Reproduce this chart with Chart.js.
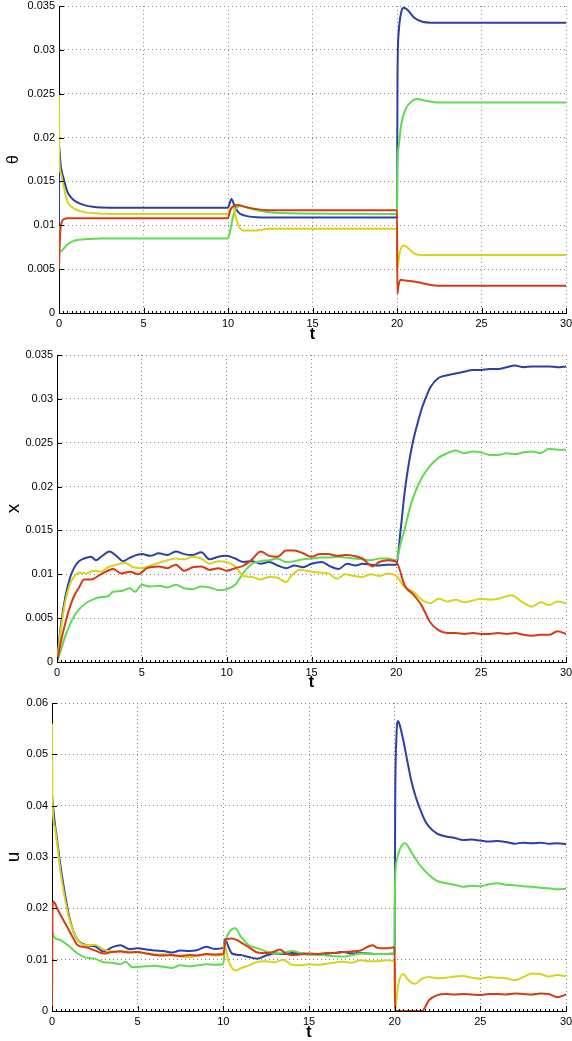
<!DOCTYPE html>
<html>
<head>
<meta charset="utf-8">
<script src="https://cdn.jsdelivr.net/npm/chart.js@4"></script>
<style>
  html, body { margin: 0; padding: 0; background: #fff; }
  #wrap { position: relative; width: 572px; height: 1041px; }
  canvas { position: absolute; left: 0; }
</style>
</head>
<body>
<div id="wrap">
  <canvas id="theta-chart" width="572" height="348" style="top:0"></canvas>
  <canvas id="x-chart" width="572" height="348" style="top:348px"></canvas>
  <canvas id="u-chart" width="572" height="345" style="top:696px"></canvas>
</div>
<script>
// Series colours (same for all three panels)
const BLUE = "#2b3fa8";
const GREEN = "#5fdb50";
const YELLOW = "#d9d31b";
const RED = "#d63b14";

const T_TICKS = [0, 5, 10, 15, 20, 25, 30];

// Panel 1: theta, points are [t, value]
const thetaBlue = [[0,0.0100],[0.01,0.0190],[0.1,0.0168],[0.25,0.0155],[0.5,0.0138],[0.75,0.0131],[1,0.0127],[1.5,0.0123],[2,0.0121],[3,0.0120],[10,0.0120],[10.1,0.0125],[10.2,0.0130],[10.35,0.0124],[10.6,0.0115],[11,0.0111],[12,0.0109],[20,0.0109],[20.03,0.0270],[20.1,0.0320],[20.25,0.0343],[20.4,0.0348],[20.6,0.0346],[21,0.0337],[21.5,0.0332],[22,0.0331],[30,0.0331]];
const thetaGreen = [[0,0.0100],[0.02,0.0072],[0.1,0.0070],[0.3,0.0074],[0.5,0.0078],[0.75,0.0081],[1,0.0083],[1.5,0.0084],[2.5,0.0085],[10,0.0085],[10.1,0.0091],[10.3,0.0110],[10.5,0.0120],[10.8,0.0122],[11.3,0.0119],[12,0.0116],[13,0.0114],[20,0.0113],[20.02,0.0165],[20.1,0.0190],[20.25,0.0215],[20.5,0.0232],[20.9,0.0242],[21.2,0.0244],[21.7,0.0242],[22.5,0.0240],[30,0.0240]];
const thetaYellow = [[0,0.0250],[0.02,0.0175],[0.1,0.0160],[0.25,0.0146],[0.5,0.0127],[0.75,0.0121],[1,0.0118],[1.5,0.0115],[2,0.0114],[3,0.0113],[10,0.0113],[10.15,0.0119],[10.3,0.0122],[10.45,0.0110],[10.7,0.0097],[11,0.0094],[11.5,0.0094],[12.5,0.0096],[20,0.0096],[20.03,0.0052],[20.15,0.0068],[20.4,0.0077],[20.6,0.0075],[21,0.0068],[21.5,0.0066],[22.5,0.0066],[30,0.0066]];
const thetaRed = [[0,0.0050],[0.05,0.0085],[0.15,0.0103],[0.3,0.0107],[0.5,0.0108],[10,0.0108],[10.15,0.0118],[10.35,0.0122],[10.6,0.0123],[11,0.0121],[11.5,0.0119],[12.5,0.0117],[20,0.0117],[20.02,0.0022],[20.08,0.0030],[20.2,0.0038],[20.5,0.0037],[21,0.0036],[21.5,0.0034],[22,0.0032],[23,0.0031],[30,0.0031]];

// Panel 2: x
const xBlue = [[0,0],[0.25,0.0045],[0.5,0.0075],[0.75,0.0095],[1,0.0107],[1.3,0.0115],[1.6,0.0118],[2,0.0120],[2.3,0.0116],[2.6,0.0120],[3.1,0.0126],[3.5,0.0121],[3.9,0.0115],[4.3,0.0119],[5,0.0123],[5.5,0.0121],[6,0.0124],[6.5,0.0122],[7,0.0126],[7.5,0.0123],[8,0.0122],[8.5,0.0125],[9,0.0117],[9.5,0.0120],[10,0.0121],[10.5,0.0118],[11,0.0114],[11.5,0.0115],[12,0.0112],[12.5,0.0114],[13,0.0110],[13.5,0.0107],[14,0.0110],[14.5,0.0108],[15,0.0112],[15.6,0.0114],[16.1,0.0109],[16.6,0.0106],[17.1,0.0112],[17.6,0.0110],[18,0.0112],[18.5,0.0111],[19,0.0110],[19.5,0.0111],[20,0.0111],[20.25,0.0150],[20.5,0.0195],[20.75,0.0228],[21,0.0253],[21.25,0.0272],[21.5,0.0289],[21.75,0.0302],[22,0.0313],[22.5,0.0324],[23,0.0327],[23.5,0.0329],[24,0.0331],[24.5,0.0333],[25,0.0333],[25.5,0.0334],[26,0.0334],[26.5,0.0336],[27,0.0338],[27.5,0.0336],[28,0.0337],[28.5,0.0337],[29,0.0337],[29.5,0.0336],[30,0.0337]];
const xGreen = [[0,0],[0.25,0.0015],[0.5,0.0030],[0.75,0.0042],[1,0.0052],[1.3,0.0060],[1.7,0.0067],[2.2,0.0072],[2.6,0.0074],[3,0.0075],[3.3,0.0080],[3.8,0.0081],[4.3,0.0084],[4.6,0.0080],[5,0.0088],[5.5,0.0086],[6,0.0087],[6.5,0.0085],[7,0.0088],[7.5,0.0084],[8,0.0083],[8.5,0.0086],[9,0.0085],[9.5,0.0082],[10,0.0083],[10.5,0.0088],[11,0.0102],[11.5,0.0112],[12,0.0115],[12.5,0.0116],[13,0.0118],[13.5,0.0114],[14,0.0115],[14.5,0.0117],[15,0.0118],[15.5,0.0119],[16,0.0119],[16.5,0.0120],[17,0.0119],[17.5,0.0118],[18,0.0117],[18.5,0.0116],[19,0.0118],[19.5,0.0118],[20,0.0116],[20.25,0.0135],[20.5,0.0152],[20.75,0.0172],[21,0.0188],[21.5,0.0210],[22,0.0224],[22.5,0.0233],[23,0.0238],[23.5,0.0241],[24,0.0238],[24.5,0.0240],[25,0.0239],[25.5,0.0236],[26,0.0236],[26.5,0.0238],[27,0.0237],[27.5,0.0239],[28,0.0240],[28.5,0.0238],[29,0.0243],[29.5,0.0242],[30,0.0242]];
const xYellow = [[0,0],[0.25,0.0040],[0.5,0.0070],[0.75,0.0088],[1,0.0097],[1.3,0.0102],[1.7,0.0101],[2.2,0.0104],[2.6,0.0103],[3,0.0108],[3.5,0.0111],[4,0.0113],[4.5,0.0108],[5,0.0107],[5.5,0.0110],[6,0.0113],[6.5,0.0116],[7,0.0118],[7.5,0.0117],[8,0.0120],[8.5,0.0118],[9,0.0112],[9.5,0.0115],[10,0.0114],[10.5,0.0109],[11,0.0098],[11.5,0.0097],[12,0.0094],[12.5,0.0097],[13,0.0096],[13.5,0.0091],[13.8,0.0098],[14.3,0.0105],[15,0.0103],[15.5,0.0102],[16,0.0101],[16.5,0.0095],[17,0.0100],[17.5,0.0098],[18,0.0097],[18.5,0.0100],[19,0.0098],[19.5,0.0101],[20,0.0098],[20.5,0.0085],[21,0.0080],[21.5,0.0071],[22,0.0067],[22.5,0.0072],[23,0.0069],[23.5,0.0071],[24,0.0068],[24.5,0.0070],[25,0.0072],[25.5,0.0071],[26,0.0072],[26.8,0.0076],[27.3,0.0070],[28,0.0063],[28.5,0.0068],[29,0.0065],[29.5,0.0069],[30,0.0067]];
const xRed = [[0,0],[0.25,0.0025],[0.5,0.0045],[0.75,0.0062],[1,0.0075],[1.3,0.0085],[1.6,0.0094],[2,0.0094],[2.5,0.0099],[3,0.0104],[3.3,0.0106],[3.8,0.0101],[4.3,0.0103],[4.8,0.0100],[5.3,0.0107],[6,0.0109],[6.5,0.0107],[7,0.0111],[7.5,0.0104],[8,0.0108],[8.5,0.0109],[9,0.0105],[9.5,0.0107],[10,0.0104],[10.5,0.0107],[11,0.0110],[11.5,0.0117],[12,0.0126],[12.5,0.0121],[13,0.0120],[13.5,0.0127],[14,0.0127],[14.5,0.0124],[15,0.0120],[15.5,0.0123],[16,0.0123],[16.5,0.0121],[17,0.0122],[17.5,0.0121],[18,0.0118],[18.6,0.0109],[19,0.0114],[19.5,0.0116],[20,0.0114],[20.5,0.0087],[21,0.0077],[21.5,0.0064],[22,0.0045],[22.5,0.0036],[23,0.0033],[23.5,0.0033],[24,0.0032],[24.5,0.0033],[25,0.0032],[25.5,0.0032],[26,0.0033],[26.5,0.0032],[27,0.0033],[27.5,0.0031],[28,0.0030],[28.5,0.0031],[29,0.0031],[29.5,0.0035],[30,0.0032]];

// Panel 3: u
const uBlue = [[0,0.0420],[0.15,0.0370],[0.3,0.0333],[0.5,0.0281],[0.75,0.0229],[1,0.0184],[1.25,0.0155],[1.5,0.0138],[2,0.0128],[2.5,0.0126],[3,0.0116],[3.5,0.0124],[4,0.0128],[4.5,0.0121],[5,0.0122],[5.5,0.0120],[6,0.0118],[6.5,0.0117],[7,0.0114],[7.5,0.0118],[8,0.0117],[8.5,0.0119],[9,0.0125],[9.5,0.0121],[10,0.0123],[10.1,0.0140],[10.3,0.0125],[10.5,0.0112],[11,0.0109],[11.5,0.0105],[12,0.0102],[12.5,0.0108],[13,0.0112],[13.5,0.0111],[14,0.0113],[15,0.0111],[15.5,0.0110],[16,0.0111],[17,0.0115],[17.5,0.0112],[18,0.0113],[19,0.0111],[20,0.0112],[20.03,0.0400],[20.1,0.0530],[20.2,0.0565],[20.35,0.0550],[20.5,0.0528],[20.75,0.0485],[21,0.0444],[21.25,0.0415],[21.5,0.0392],[21.75,0.0372],[22,0.0359],[22.5,0.0345],[23,0.0340],[23.5,0.0337],[24,0.0333],[24.5,0.0334],[25,0.0332],[25.5,0.0330],[26,0.0331],[26.5,0.0329],[27,0.0326],[27.5,0.0328],[28,0.0327],[28.5,0.0328],[29,0.0326],[29.5,0.0327],[30,0.0325]];
const uGreen = [[0,0.0155],[0.15,0.0143],[0.5,0.0138],[1,0.0126],[1.5,0.0112],[2,0.0104],[2.5,0.0102],[3,0.0095],[3.5,0.0094],[4,0.0091],[4.3,0.0096],[4.7,0.0085],[5,0.0086],[5.5,0.0087],[6,0.0088],[6.5,0.0086],[7,0.0084],[7.5,0.0089],[8,0.0087],[8.5,0.0089],[9,0.0091],[9.5,0.0090],[10,0.0091],[10.1,0.0130],[10.3,0.0151],[10.7,0.0161],[11,0.0146],[11.5,0.0128],[12,0.0122],[12.5,0.0116],[13,0.0112],[13.5,0.0113],[14,0.0117],[14.5,0.0113],[15,0.0109],[15.5,0.0110],[16,0.0108],[17,0.0106],[17.5,0.0109],[18,0.0112],[19,0.0111],[20,0.0112],[20.02,0.0240],[20.1,0.0290],[20.3,0.0315],[20.6,0.0327],[21,0.0308],[21.5,0.0283],[22,0.0265],[22.5,0.0253],[23,0.0249],[23.5,0.0246],[24,0.0242],[24.5,0.0244],[25,0.0243],[25.5,0.0247],[26,0.0249],[26.5,0.0246],[27,0.0245],[27.5,0.0243],[28,0.0242],[28.5,0.0240],[29,0.0239],[29.5,0.0237],[30,0.0238]];
const uYellow = [[0,0.0560],[0.02,0.0420],[0.15,0.0360],[0.3,0.0325],[0.5,0.0270],[0.75,0.0220],[1,0.0180],[1.25,0.0155],[1.5,0.0138],[2,0.0128],[2.5,0.0129],[3,0.0120],[3.5,0.0116],[4,0.0117],[4.5,0.0116],[5,0.0114],[5.5,0.0113],[6,0.0110],[6.5,0.0111],[7,0.0108],[7.5,0.0106],[8,0.0105],[8.5,0.0108],[9,0.0110],[9.5,0.0108],[10,0.0110],[10.05,0.0132],[10.3,0.0098],[10.7,0.0079],[11,0.0083],[11.5,0.0089],[12,0.0096],[12.5,0.0097],[13,0.0095],[13.5,0.0100],[14,0.0090],[14.5,0.0089],[15,0.0091],[15.5,0.0090],[16,0.0092],[17,0.0096],[17.5,0.0094],[18,0.0099],[18.5,0.0097],[19,0.0097],[19.5,0.0099],[20,0.0096],[20.02,0],[20.2,0.0050],[20.5,0.0072],[20.8,0.0060],[21.2,0.0053],[21.6,0.0063],[22,0.0066],[22.5,0.0064],[23,0.0065],[23.5,0.0067],[24,0.0068],[24.5,0.0065],[25,0.0063],[25.5,0.0066],[26,0.0065],[26.5,0.0064],[27,0.0060],[27.5,0.0066],[28,0.0073],[28.5,0.0072],[29,0.0067],[29.5,0.0070],[30,0.0068]];
const uRed = [[0,0],[0.03,0.0200],[0.1,0.0213],[0.3,0.0200],[0.5,0.0187],[0.75,0.0172],[1,0.0157],[1.25,0.0141],[1.5,0.0128],[2,0.0124],[2.5,0.0118],[3,0.0112],[3.5,0.0115],[4,0.0116],[4.5,0.0114],[5,0.0115],[5.5,0.0112],[6,0.0109],[6.5,0.0108],[7,0.0109],[7.5,0.0107],[8,0.0109],[8.5,0.0108],[9,0.0111],[9.5,0.0110],[10,0.0111],[10.15,0.0140],[10.5,0.0141],[10.8,0.0138],[11.2,0.0130],[11.5,0.0124],[12,0.0114],[12.5,0.0113],[13,0.0116],[13.3,0.0120],[13.6,0.0113],[14,0.0109],[14.5,0.0110],[15,0.0112],[15.5,0.0111],[16,0.0113],[16.5,0.0113],[17,0.0115],[17.5,0.0116],[18,0.0118],[18.7,0.0128],[19,0.0123],[19.5,0.0122],[20,0.0124],[20.02,0],[21.6,0],[22,0.0021],[22.5,0.0031],[23,0.0033],[23.5,0.0032],[24,0.0033],[24.5,0.0032],[25,0.0031],[25.5,0.0033],[26,0.0033],[26.5,0.0032],[27,0.0034],[27.5,0.0033],[28,0.0032],[28.5,0.0034],[29,0.0033],[29.5,0.0027],[30,0.0032]];

const FONT = "'Liberation Sans', Arial, Helvetica, sans-serif";

// short inner ticks on the left and bottom axes, MATLAB style
const innerTicks = {
  id: "innerTicks",
  afterDraw(chart) {
    const { ctx, chartArea, scales } = chart;
    const xs = scales.x, ys = scales.y;
    ctx.save();
    ctx.strokeStyle = "#000";
    ctx.lineWidth = 1;
    ctx.beginPath();
    for (let i = 0; i <= 120; i++) {
      const t = i * 0.25;
      const px = Math.round(xs.getPixelForValue(t)) + 0.5;
      const len = i % 20 === 0 ? 5 : 2;
      ctx.moveTo(px, chartArea.bottom);
      ctx.lineTo(px, chartArea.bottom - len);
    }
    const step = ys.options.ticks.stepSize;
    const n = Math.round(ys.max / step);
    for (let i = 0; i <= n; i++) {
      const py = Math.round(ys.getPixelForValue(i * step)) + 0.5;
      ctx.moveTo(chartArea.left, py);
      ctx.lineTo(chartArea.left + 5, py);
    }
    ctx.stroke();
    ctx.restore();
  },
};

const makeDataset = (points, color) => ({
  data: points.map((p) => ({ x: p[0], y: p[1] })),
  borderColor: color,
  borderWidth: 2,
  pointRadius: 0,
  fill: false,
  cubicInterpolationMode: "monotone",
  borderJoinStyle: "round",
});

const makePanel = (id, label, labelSize, series, yMax, yStep, box) => {
  return new Chart(document.getElementById(id), {
    type: "line",
    data: {
      datasets: [
        makeDataset(series.red, RED),
        makeDataset(series.yellow, YELLOW),
        makeDataset(series.green, GREEN),
        makeDataset(series.blue, BLUE),
      ],
    },
    options: {
      responsive: false,
      animation: false,
      devicePixelRatio: 1,
      layout: { padding: { top: box.top, right: box.right, left: 0, bottom: 0 } },
      plugins: { legend: { display: false }, tooltip: { enabled: false } },
      scales: {
        x: {
          type: "linear",
          min: 0,
          max: 30,
          afterBuildTicks: (scale) => {
            scale.ticks = T_TICKS.map((v) => ({ value: v }));
          },
          afterFit: (scale) => {
            scale.height = box.xh;
            scale.paddingLeft = scale.paddingRight = 0;
          },
          ticks: { color: "#000", font: { family: FONT, size: 11 }, padding: 4, maxRotation: 0 },
          grid: { color: "#888", lineWidth: 1, drawTicks: false },
          border: { color: "#000", width: 1, dash: [1, 3] },
          title: {
            display: true,
            text: "t",
            color: "#000",
            font: { family: FONT, size: 16, weight: "bold", lineHeight: 1 },
            padding: { top: 0, bottom: box.tpad },
          },
        },
        y: {
          type: "linear",
          min: 0,
          max: yMax,
          ticks: {
            stepSize: yStep,
            color: "#000",
            font: { family: FONT, size: 11 },
            padding: 4,
            callback: (v) => String(+v.toFixed(4)),
          },
          afterFit: (scale) => {
            scale.width = box.left;
            scale.paddingTop = scale.paddingBottom = 0;
          },
          grid: { color: "#888", lineWidth: 1, drawTicks: false },
          border: { color: "#000", width: 1, dash: [1, 3] },
          title: {
            display: true,
            text: label,
            color: "#000",
            font: { family: FONT, size: labelSize, lineHeight: 1 },
            padding: { top: 14 - labelSize / 2, bottom: 0 },
          },
        },
      },
    },
    plugins: [innerTicks],
  });
};

makePanel("theta-chart", "θ", 16, { blue: thetaBlue, green: thetaGreen, yellow: thetaYellow, red: thetaRed }, 0.035, 0.005, { left: 59, right: 6, top: 6, xh: 35, tpad: 5 });
makePanel("x-chart", "x", 19, { blue: xBlue, green: xGreen, yellow: xYellow, red: xRed }, 0.035, 0.005, { left: 57, right: 6, top: 7, xh: 34, tpad: 5 });
makePanel("u-chart", "u", 19, { blue: uBlue, green: uGreen, yellow: uYellow, red: uRed }, 0.06, 0.01, { left: 52, right: 6, top: 7, xh: 30, tpad: 0 });
</script>
</body>
</html>
